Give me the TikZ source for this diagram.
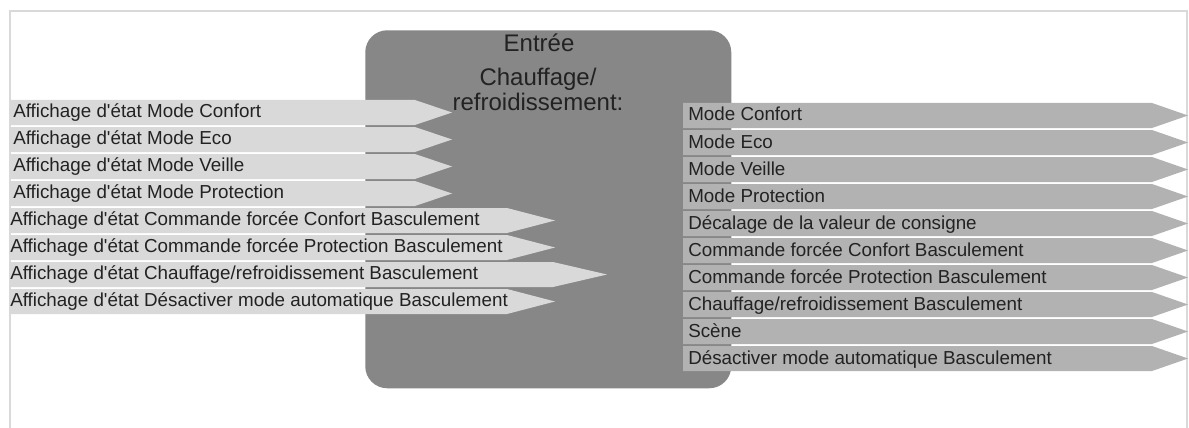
\documentclass[tikz,border=0pt]{standalone}
\usepackage{fontspec}
\setmainfont{Liberation Sans}[Ligatures=TeXOff]
\definecolor{boxgray}{HTML}{878787}
\definecolor{inarrow}{HTML}{D9D9D9}
\definecolor{outarrow}{HTML}{B2B2B2}
\definecolor{txt}{HTML}{222222}
\definecolor{framegray}{HTML}{D9D9D9}
\begin{document}
\begin{tikzpicture}[x=0.75pt,y=-0.75pt,
  lbl/.style={anchor=base west,inner sep=0pt,text=txt,font=\fontsize{14.1}{16}\selectfont},
  ttl/.style={anchor=base,inner sep=0pt,text=txt,font=\fontsize{18}{20}\selectfont},
  inshape/.style={fill=inarrow},
  outshape/.style={fill=outarrow}]
\useasboundingbox (0,0) rectangle (1189,428);
\fill[white] (0,0) rectangle (1189,428);
\draw[framegray, line width=1.5pt] (9.5,428) |- (1186.5,11) -- (1186.5,428);
\node (box) [fill=boxgray, rounded corners=16.5pt, minimum width=274.5pt, minimum height=268.5pt, anchor=north west, inner sep=0pt] at (365,30) {};
\node (t1) [ttl] at (539,52) {Entrée};
\node (t2) [ttl] at (538,86) {Chauffage/};
\node (t3) [ttl] at (538,110) {refroidissement:};
% inputs
\foreach \t/\b/\p/\x/\s/\n in {
  100/415/452/13/{Affichage d'état Mode Confort}/i1,
  127/415/452/13/{Affichage d'état Mode Eco}/i2,
  154/415/452/13/{Affichage d'état Mode Veille}/i3,
  181/415/452/13/{Affichage d'état Mode Protection}/i4,
  208/507/555/10/{Affichage d'état Commande forcée Confort Basculement}/i5,
  235/507/555/10/{Affichage d'état Commande forcée Protection Basculement}/i6,
  262/553/607/10/{Affichage d'état Chauffage/refroidissement Basculement}/i7,
  289/507/555/10/{Affichage d'état Désactiver mode automatique Basculement}/i8}{
  \fill[inshape] (10,\t) -- (\b,\t) -- (\p,\t+12.5) -- (\b,\t+25) -- (10,\t+25) -- cycle;
  \node (\n) [lbl] at (\x,\t+17.5) {\s};
}
% outputs
\foreach \t/\s/\n in {
  103/{Mode Confort}/o1,
  130/{Mode Eco}/o2,
  157/{Mode Veille}/o3,
  184/{Mode Protection}/o4,
  211/{Décalage de la valeur de consigne}/o5,
  238/{Commande forcée Confort Basculement}/o6,
  265/{Commande forcée Protection Basculement}/o7,
  292/{Chauffage/refroidissement Basculement}/o8,
  319/{Scène}/o9,
  346/{Désactiver mode automatique Basculement}/o10}{
  \fill[outshape] (683,\t) -- (1152,\t) -- (1188,\t+12.5) -- (1152,\t+25) -- (683,\t+25) -- cycle;
  \node (\n) [lbl] at (688,\t+18) {\s};
}
\end{tikzpicture}
\end{document}
